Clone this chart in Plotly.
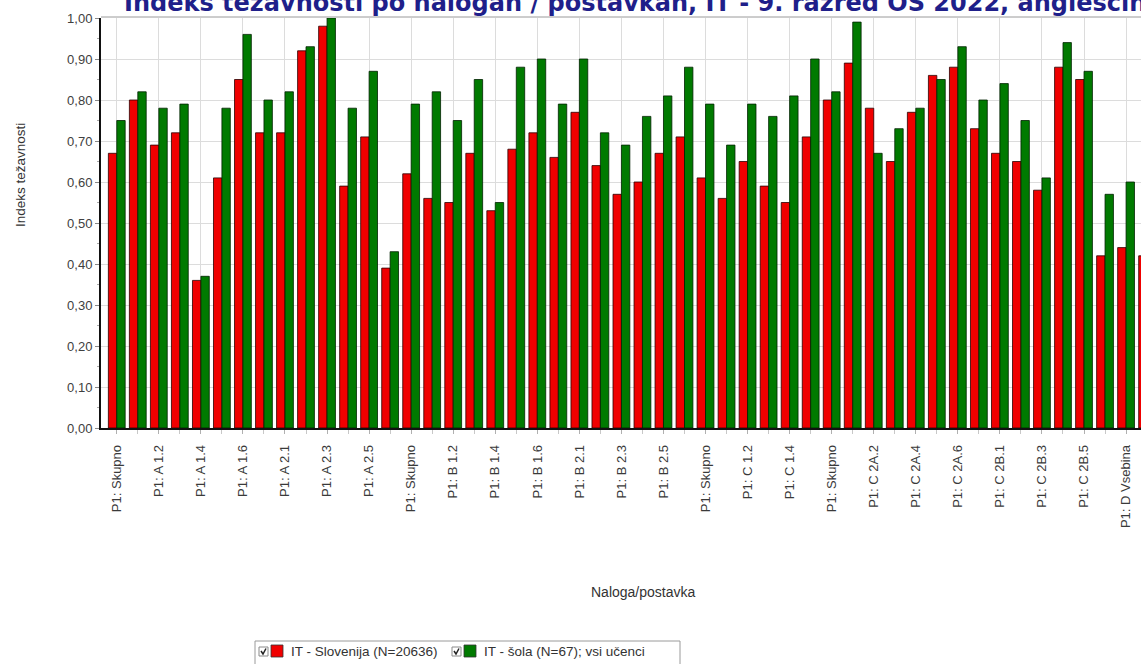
import plotly.graph_objects as go

categories = [
    "P1: Skupno", "P1: A 1.1", "P1: A 1.2", "P1: A 1.3", "P1: A 1.4", "P1: A 1.5", "P1: A 1.6",
    "P1: A 1.7", "P1: A 2.1", "P1: A 2.2", "P1: A 2.3", "P1: A 2.4", "P1: A 2.5", "P1: A 2.6",
    "P1: Skupno", "P1: B 1.1", "P1: B 1.2", "P1: B 1.3", "P1: B 1.4", "P1: B 1.5", "P1: B 1.6",
    "P1: B 1.7", "P1: B 2.1", "P1: B 2.2", "P1: B 2.3", "P1: B 2.4", "P1: B 2.5", "P1: B 2.6",
    "P1: Skupno", "P1: C 1.1", "P1: C 1.2", "P1: C 1.3", "P1: C 1.4", "P1: C 1.5",
    "P1: Skupno", "P1: C 2A.1", "P1: C 2A.2", "P1: C 2A.3", "P1: C 2A.4", "P1: C 2A.5", "P1: C 2A.6",
    "P1: C 2A.7", "P1: C 2B.1", "P1: C 2B.2", "P1: C 2B.3", "P1: C 2B.4", "P1: C 2B.5", "P1: C 2B.6",
    "P1: D Vsebina", "P1: D Jezik",
]

slovenija = [0.67, 0.80, 0.69, 0.72, 0.36, 0.61, 0.85, 0.72, 0.72, 0.92, 0.98, 0.59, 0.71, 0.39,
             0.62, 0.56, 0.55, 0.67, 0.53, 0.68, 0.72, 0.66, 0.77, 0.64, 0.57, 0.60, 0.67, 0.71,
             0.61, 0.56, 0.65, 0.59, 0.55, 0.71,
             0.80, 0.89, 0.78, 0.65, 0.77, 0.86, 0.88, 0.73, 0.67, 0.65, 0.58, 0.88, 0.85, 0.42,
             0.44, 0.42]

sola = [0.75, 0.82, 0.78, 0.79, 0.37, 0.78, 0.96, 0.80, 0.82, 0.93, 1.00, 0.78, 0.87, 0.43,
        0.79, 0.82, 0.75, 0.85, 0.55, 0.88, 0.90, 0.79, 0.90, 0.72, 0.69, 0.76, 0.81, 0.88,
        0.79, 0.69, 0.79, 0.76, 0.81, 0.90,
        0.82, 0.99, 0.67, 0.73, 0.78, 0.85, 0.93, 0.80, 0.84, 0.75, 0.61, 0.94, 0.87, 0.57,
        0.60, None]

series_names = ["IT - Slovenija (N=20636)", "IT - šola (N=67); vsi učenci"]
title_text = "Indeks težavnosti po nalogah / postavkah, IT - 9. razred OŠ 2022, angleščina"
x_title = "Naloga/postavka"
y_title = "Indeks težavnosti"

RED = "#f00000"
GREEN = "#007a00"

W, H = 1141, 664
ML, MR, MT, MB = 101, 0, 18, 236
PW = W - ML - MR
PH = H - MT - MB


def px(xp):
    return (xp - ML) / PW


def py(yp):
    return (H - MB - yp) / PH


xs = list(range(len(categories)))
tickvals = xs[::2]
ticktext = categories[::2]

fig = go.Figure()
fig.add_trace(go.Bar(x=xs, y=slovenija, name=series_names[0], marker=dict(color=RED, line=dict(color="#2a0000", width=0.8))))
fig.add_trace(go.Bar(x=xs, y=sola, name=series_names[1], marker=dict(color=GREEN, line=dict(color="#002200", width=0.8))))

fig.update_layout(
    width=W, height=H,
    margin=dict(l=ML, r=MR, t=MT, b=MB, pad=0),
    paper_bgcolor="white", plot_bgcolor="white",
    barmode="group", bargap=0.2, bargroupgap=0.0,
    showlegend=False,
    separators=",.",
    font=dict(family="Liberation Sans, Arial", color="#333333"),
)

fig.update_xaxes(
    range=[-0.75, 48.71],
    tickmode="array", tickvals=tickvals, ticktext=ticktext,
    tickangle=-90, tickfont=dict(size=13, color="#3a3a3a"),
    ticks="outside", ticklen=4, tickcolor="#b0b0b0",
    ticklabelstandoff=6,
    minor=dict(dtick=1, tick0=0, ticks="outside", ticklen=4, tickcolor="#c8c8c8", showgrid=False),
    showgrid=True, gridcolor="#dcdcdc", gridwidth=1,
    showline=True, linecolor="#111111", linewidth=1.5,
    zeroline=False, automargin=False,
)

fig.update_yaxes(
    range=[0, 1.0], dtick=0.1, tickformat=".2f",
    tickfont=dict(size=13, color="#404040"),
    ticks="outside", ticklen=4, tickcolor="#888888",
    minor=dict(dtick=0.05, ticks="outside", ticklen=2, tickcolor="#aaaaaa", showgrid=False),
    showgrid=True, gridcolor="#dcdcdc", gridwidth=1,
    showline=True, linecolor="#111111", linewidth=2,
    zeroline=False, automargin=False,
)

shapes = []
# top frame line
shapes.append(dict(type="line", xref="paper", yref="paper", x0=0, x1=1, y0=py(17), y1=py(17),
                   line=dict(color="#9a9a9a", width=1)))

# legend box
lb_l, lb_r, lb_t, lb_b = 255, 680, 641, 672
shapes.append(dict(type="rect", xref="paper", yref="paper", x0=px(lb_l), x1=px(lb_r), y0=py(lb_b), y1=py(lb_t),
                   line=dict(color="#9a9a9a", width=1), fillcolor="white", layer="above"))

annotations = []
legend_items = [(259, RED, series_names[0]), (452, GREEN, series_names[1])]
for x0, col, name in legend_items:
    # checkbox
    shapes.append(dict(type="rect", xref="paper", yref="paper", x0=px(x0), x1=px(x0 + 9), y0=py(656), y1=py(647),
                       line=dict(color="#8a8a8a", width=1), fillcolor="white", layer="above"))
    shapes.append(dict(type="path", xref="paper", yref="paper",
                       path=f"M {px(x0 + 2)} {py(651)} L {px(x0 + 4)} {py(654)} L {px(x0 + 7)} {py(648.5)}",
                       line=dict(color="#222222", width=1.5), layer="above"))
    # colour square
    shapes.append(dict(type="rect", xref="paper", yref="paper", x0=px(x0 + 12), x1=px(x0 + 24), y0=py(657), y1=py(645),
                       line=dict(color="#333333", width=0.8), fillcolor=col, layer="above"))
    annotations.append(dict(text=name, xref="paper", yref="paper", x=px(x0 + 30), y=py(651),
                            xanchor="left", yanchor="middle", showarrow=False,
                            font=dict(size=13.5, color="#333333", family="Liberation Sans, Arial")))

# title (cut off at top of the image, as in the reference)
annotations.append(dict(text="<b>" + title_text + "</b>", xref="paper", yref="paper", x=0, y=1,
                        xanchor="left", yanchor="bottom", xshift=21, yshift=-1, showarrow=False,
                        font=dict(size=24, color="#1f1f8a", family="DejaVu Sans")))
# axis titles
annotations.append(dict(text=x_title, xref="paper", yref="paper", x=px(643), y=py(592),
                        xanchor="center", yanchor="middle", showarrow=False,
                        font=dict(size=14, color="#333333", family="Liberation Sans, Arial")))
annotations.append(dict(text=y_title, xref="paper", yref="paper", x=px(20), y=py(175),
                        xanchor="center", yanchor="middle", textangle=-90, showarrow=False,
                        font=dict(size=13.5, color="#333333", family="Liberation Sans, Arial")))

fig.update_layout(shapes=shapes, annotations=annotations)

fig.write_html(
    "out.html",
    config={"displayModeBar": False},
    post_script="document.body.style.margin='0';document.body.style.padding='0';document.body.style.overflow='hidden';",
)
